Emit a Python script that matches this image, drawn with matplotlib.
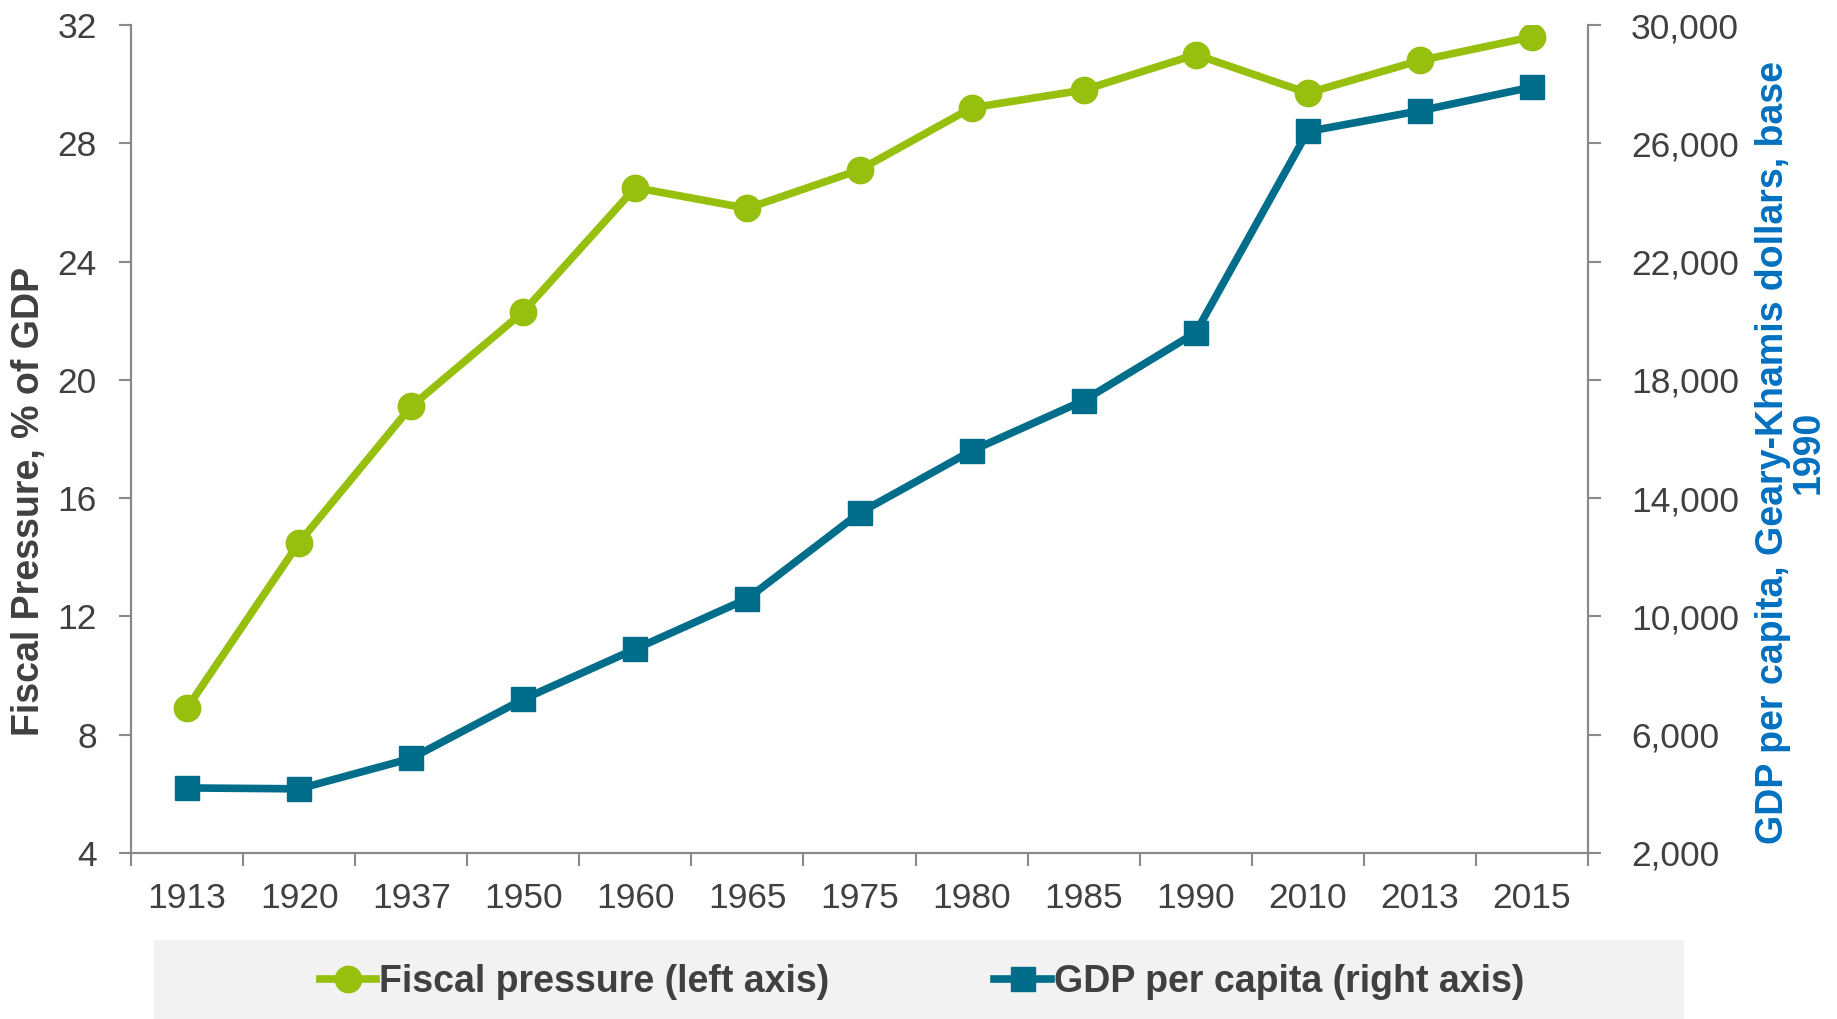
import numpy as np
import matplotlib
matplotlib.use('Agg')
import matplotlib.pyplot as plt
from matplotlib.patches import Rectangle
from matplotlib.ticker import FuncFormatter

plt.rcParams['font.family'] = ['Liberation Sans', 'DejaVu Sans']

years = ['1913', '1920', '1937', '1950', '1960', '1965', '1975',
         '1980', '1985', '1990', '2010', '2013', '2015']
fiscal_pressure = [8.9, 14.5, 19.1, 22.3, 26.5, 25.8, 27.1,
                   29.2, 29.8, 31.0, 29.7, 30.8, 31.6]
gdp_per_capita = [4200, 4170, 5200, 7200, 8900, 10600, 13500,
                  15600, 17300, 19600, 26400, 27100, 27900]

GREEN = '#97BF0D'
TEAL = '#006E8A'
BLUE = '#0070C0'
TEXT = '#404040'
SPINE = '#898989'

W, H = 1837, 1019
fig = plt.figure(figsize=(W / 100, H / 100), dpi=100)
ax = fig.add_axes([131 / W, 1 - 853 / H, (1588 - 131) / W, (853 - 25) / H])
ax2 = ax.twinx()

x = np.arange(len(years))
l1, = ax.plot(x, fiscal_pressure, color=GREEN, lw=5.5, marker='o', ms=19,
              label='Fiscal pressure (left axis)', zorder=3)
l2, = ax2.plot(x, gdp_per_capita, color=TEAL, lw=5.5, marker='s', ms=17,
               label='GDP per capita (right axis)', zorder=3)

# category axis: tick marks on the boundaries, labels in the middle
ax.set_xlim(-0.5, len(years) - 0.5)
ax.set_xticks(np.arange(-0.5, len(years), 1))
ax.set_xticklabels([])
ax.set_xticks(x, minor=True)
ax.set_xticklabels(years, minor=True)
ax.tick_params(axis='x', which='major', length=9, width=1.5, color=SPINE, direction='out')
ax.tick_params(axis='x', which='minor', length=0, pad=21, labelsize=25.5, labelcolor=TEXT)

ax.set_ylim(4, 32)
ax.set_yticks(np.arange(4, 33, 4))
ax.tick_params(axis='y', length=9, width=1.5, color=SPINE, pad=15.5, labelsize=25.5, labelcolor=TEXT)

ax2.set_ylim(2000, 30000)
ax2.set_yticks(np.arange(2000, 30001, 4000))
ax2.yaxis.set_major_formatter(FuncFormatter(lambda v, p: f'{int(v):,}'))
ax2.tick_params(axis='y', length=9, width=1.5, color=SPINE, pad=22, labelsize=25.5, labelcolor=TEXT)

for a in (ax, ax2):
    a.spines['top'].set_visible(False)
    for s in ('left', 'right', 'bottom'):
        a.spines[s].set_color(SPINE)
        a.spines[s].set_linewidth(1.5)

fig.text(29 / W, 1 - 501 / H, 'Fiscal Pressure, % of GDP', rotation=90,
         ha='center', va='center', fontsize=27, fontweight='bold', color=TEXT)

fig.text(1791 / W, 1 - 452 / H, 'GDP per capita, Geary-Khamis dollars, base\n1990',
         rotation=90, ha='center', va='center', multialignment='center',
         fontsize=27, fontweight='bold', color=BLUE, linespacing=1.0)

# legend panel
fig.patches.append(Rectangle((154 / W, 0), (1684 - 154) / W, 1 - 940 / H,
                             transform=fig.transFigure, facecolor='#F2F2F2',
                             edgecolor='none', zorder=0))
leg = fig.legend(handles=[l1, l2], loc='center', bbox_to_anchor=(922 / W, 1 - 982 / H),
                 ncol=2, frameon=False, handlelength=1.5, handletextpad=0.08,
                 columnspacing=4.4, prop={'size': 27, 'weight': 'bold'})
for t in leg.get_texts():
    t.set_color(TEXT)

fig.savefig('out.png', dpi=100)
